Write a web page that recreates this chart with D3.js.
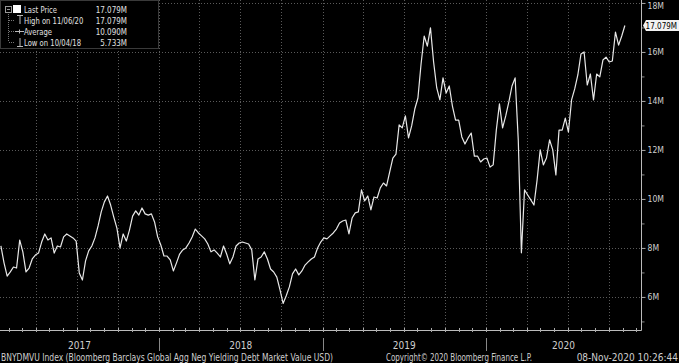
<!DOCTYPE html>
<html>
<head>
<meta charset="utf-8">
<script src="https://cdnjs.cloudflare.com/ajax/libs/d3/7.8.5/d3.min.js"></script>
<style>
  html, body { margin: 0; padding: 0; background: #000; }
  svg { display: block; }
  text { font-family: "Liberation Sans Narrow", "DejaVu Sans Condensed", "Arial Narrow", sans-serif; }
</style>
</head>
<body>
<svg id="main" width="679" height="363"></svg>
<script>
// weekly closes (Fridays) 2017-01-13 .. 2020-11-06, in millions USD
const firstWeek = new Date(2017, 0, 13);
const lastWeek = new Date(2020, 10, 6);
const values = [
  8.08, 7.39, 6.85, 7.02, 7.22, 7.18, 8.32, 7.84, 7.02, 7.18,
  7.55, 7.71, 7.79, 8.24, 8.57, 8.32, 8.41, 7.79, 8.08, 8.04,
  8.45, 8.57, 8.49, 8.41, 8.28, 6.98, 6.69, 7.47, 7.88, 8.08,
  8.41, 8.90, 9.47, 9.88, 10.12, 9.75, 9.26, 8.81, 8.00, 8.57,
  8.28, 8.73, 9.30, 9.51, 9.34, 9.63, 9.39, 9.34, 9.39, 9.06,
  8.45, 8.12, 7.67, 7.67, 7.51, 7.06, 7.39, 7.75, 7.92, 8.00,
  8.20, 8.45, 8.77, 8.61, 8.49, 8.37, 8.16, 7.84, 7.92, 7.79,
  7.63, 8.08, 7.75, 7.35, 7.63, 8.08, 8.20, 8.24, 8.20, 8.16,
  7.92, 6.69, 7.55, 7.63, 7.84, 7.55, 7.14, 7.02, 6.81, 6.30,
  5.733, 6.05, 6.41, 6.94, 7.14, 6.90, 7.06, 7.30, 7.43, 7.55,
  7.63, 8.00, 8.24, 8.41, 8.37, 8.49, 8.61, 8.77, 9.02, 9.10,
  9.14, 8.57, 9.22, 9.43, 9.47, 10.37, 9.92, 10.12, 9.55, 10.08,
  10.04, 10.45, 10.65, 10.53, 11.10, 11.67, 11.83, 13.02, 12.90, 13.39,
  12.49, 12.98, 13.67, 14.12, 15.51, 16.65, 16.24, 16.98, 15.59, 14.53,
  14.04, 14.94, 14.32, 14.61, 13.79, 13.22, 13.22, 12.53, 12.24, 12.49,
  12.69, 11.75, 11.75, 11.51, 11.63, 11.67, 11.30, 11.39, 12.81, 13.88,
  12.90, 13.39, 13.96, 14.61, 14.94, 12.41, 7.80, 10.37, 10.16, 9.96,
  9.75, 10.77, 12.00, 11.39, 11.67, 12.41, 12.00, 10.98, 12.81, 12.81,
  13.30, 12.73, 14.04, 14.49, 15.06, 15.92, 16.00, 14.65, 15.10, 14.04,
  15.10, 14.98, 15.67, 15.79, 15.59, 15.63, 16.81, 16.28, 16.65, 17.079
];
const yTicks = [6, 8, 10, 12, 14, 16, 18];
const yMinorTicks = [5, 7, 9, 11, 13, 15, 17];
const years = [2017, 2018, 2019, 2020];
const legendLabels = ["Last Price", "High on 11/06/20", "Average", "Low on 10/04/18"];
const legendValues = ["17.079M", "17.079M", "10.090M", "5.733M"];
const lastLabel = "17.079M";
const footLeft = "BNYDMVU Index (Bloomberg Barclays Global Agg Neg Yielding Debt Market Value USD)";
const footMid = "Copyright\u00A9 2020 Bloomberg Finance L.P.";
const footRight = "08-Nov-2020 10:26:44";

const dates = d3.timeFriday.range(firstWeek, d3.timeDay.offset(lastWeek, 1));
const data = dates.map((d, i) => ({ date: d, value: values[i] }));

const svg = d3.select('#main');
const plotW = 641, plotH = 330;

const x = d3.scaleTime()
  .domain([new Date(2017, 0, 11), new Date(2020, 11, 12)])
  .range([0, plotW]);
const y = d3.scaleLinear().domain([4.65, 18.12]).range([plotH, 0]);

// squeeze a text horizontally so it fits the narrow Bloomberg face
function narrow(sel, ratio) {
  sel.each(function() {
    const w = this.getComputedTextLength();
    d3.select(this).attr('textLength', w * ratio).attr('lengthAdjust', 'spacingAndGlyphs');
  });
}

svg.append('rect').attr('width', 679).attr('height', 363).attr('fill', '#000');

// grid
const grid = svg.append('g').attr('stroke', '#5a5a5a').attr('stroke-dasharray', '1,2').attr('stroke-width', 1);
grid.selectAll('line.h').data(yTicks).join('line').attr('class', 'h')
  .attr('x1', 0).attr('x2', plotW)
  .attr('y1', d => Math.round(y(d)) + 0.5).attr('y2', d => Math.round(y(d)) + 0.5);
grid.selectAll('line.v').data(d3.timeMonth.every(3).range(x.domain()[0], x.domain()[1])).join('line').attr('class', 'v')
  .attr('x1', d => Math.round(x(d)) + 0.5).attr('x2', d => Math.round(x(d)) + 0.5)
  .attr('y1', 0).attr('y2', plotH);

// price line
const line = d3.line().x(d => x(d.date)).y(d => y(d.value));
svg.append('path').datum(data)
  .attr('fill', 'none').attr('stroke', '#e8e8e8').attr('stroke-width', 1.2)
  .attr('stroke-linejoin', 'round')
  .attr('d', line);

// right axis
const yAxis = d3.axisRight(y).tickValues(yTicks).tickSize(4).tickPadding(2)
  .tickFormat(d => d + 'M');
const ya = svg.append('g').attr('transform', `translate(${plotW + 0.5},0)`).call(yAxis);
ya.select('.domain').remove();
ya.selectAll('line').attr('stroke', '#aaa');
ya.selectAll('text').attr('fill', '#cfcfcf').attr('font-size', 9.5)
  .attr('dy', d => d === 18 ? '0.55em' : '0.32em').call(narrow, 0.9);
svg.append('g').attr('transform', `translate(${plotW + 0.5},0)`)
  .call(d3.axisRight(y).tickValues(yMinorTicks).tickSize(3).tickFormat(''))
  .call(g => g.select('.domain').remove())
  .selectAll('line').attr('stroke', '#888');
svg.append('line').attr('x1', plotW + 0.5).attr('x2', plotW + 0.5).attr('y1', 0).attr('y2', plotH + 0.5)
  .attr('stroke', '#bbb');

// bottom axis with monthly ticks
svg.append('line').attr('x1', 0).attr('x2', plotW + 0.5).attr('y1', plotH + 0.5).attr('y2', plotH + 0.5)
  .attr('stroke', '#bbb');
svg.append('g').selectAll('line').data(d3.timeMonth.range(x.domain()[0], x.domain()[1])).join('line')
  .attr('x1', d => Math.round(x(d)) + 0.5).attr('x2', d => Math.round(x(d)) + 0.5)
  .attr('y1', plotH - 2).attr('y2', plotH + 2).attr('stroke', '#aaa');

// year bands
const yearStarts = years.slice(1).map(yr => new Date(yr, 0, 1));
svg.append('g').selectAll('line').data(yearStarts).join('line')
  .attr('x1', d => Math.round(x(d)) + 0.5).attr('x2', d => Math.round(x(d)) + 0.5)
  .attr('y1', 338).attr('y2', 351).attr('stroke', '#888');
svg.append('g').selectAll('text').data(years).join('text')
  .attr('x', yr => {
    const a = Math.max(x(new Date(yr, 0, 1)), 0);
    const b = Math.min(x(new Date(yr + 1, 0, 1)), plotW);
    return (a + b) / 2;
  })
  .attr('y', 349).attr('text-anchor', 'middle')
  .attr('fill', '#cfcfcf').attr('font-size', 10).text(d => d);

// footer
const foot = svg.append('g').attr('fill', '#cfcfcf').attr('font-size', 10);
foot.append('text').attr('x', 1).attr('y', 361).attr('textLength', 332).attr('lengthAdjust', 'spacingAndGlyphs').text(footLeft);
foot.append('text').attr('x', 386).attr('y', 361).attr('textLength', 146).attr('lengthAdjust', 'spacingAndGlyphs').text(footMid);
foot.append('text').attr('x', 678).attr('y', 361).attr('text-anchor', 'end').text(footRight);

// last price tag
const ly = y(values[values.length - 1]);
svg.append('path')
  .attr('d', `M${plotW + 2},${ly} L${plotW + 5},${ly - 5.5} L679,${ly - 5.5} L679,${ly + 5.5} L${plotW + 5},${ly + 5.5} Z`)
  .attr('fill', '#f2f2f2');
svg.append('text').attr('x', 677).attr('y', ly + 3).attr('text-anchor', 'end')
  .attr('font-size', 8).attr('fill', '#000')
  .text(lastLabel);

// legend
const lg = svg.append('g');
lg.append('rect').attr('x', 0.5).attr('y', 0.5).attr('width', 158).attr('height', 48)
  .attr('fill', '#000').attr('stroke', '#3a3a3a');
const rowY = [9, 20, 31, 42];
lg.append('line').attr('x1', 8.5).attr('x2', 8.5).attr('y1', 12).attr('y2', 42)
  .attr('stroke', '#777').attr('stroke-dasharray', '1,1');
lg.selectAll('line.br').data(rowY.slice(1)).join('line').attr('class', 'br')
  .attr('x1', 9).attr('x2', 15).attr('y1', d => d + 0.5).attr('y2', d => d + 0.5)
  .attr('stroke', '#777').attr('stroke-dasharray', '1,1');
lg.append('rect').attr('x', 5.5).attr('y', 6.5).attr('width', 6).attr('height', 6)
  .attr('fill', 'none').attr('stroke', '#999');
lg.append('line').attr('x1', 7).attr('x2', 10).attr('y1', 9.5).attr('y2', 9.5).attr('stroke', '#999');
lg.append('rect').attr('x', 13).attr('y', 5).attr('width', 8).attr('height', 8).attr('fill', '#fff');
// high / average / low markers
lg.append('path').attr('d', `M17,${rowY[1] - 4.5}H23M20,${rowY[1] - 4.5}V${rowY[1] + 4}`).attr('stroke', '#bbb').attr('fill', 'none');
lg.append('path').attr('d', `M15,${rowY[2] + 0.5}H24M19.5,${rowY[2] - 1.5}V${rowY[2] + 2.5}`).attr('stroke', '#bbb').attr('fill', 'none');
lg.append('path').attr('d', `M17,${rowY[3] + 4.5}H23M20,${rowY[3] - 4}V${rowY[3] + 4.5}`).attr('stroke', '#bbb').attr('fill', 'none');
lg.selectAll('text.lab').data(legendLabels).join('text').attr('class', 'lab')
  .attr('x', 24).attr('y', (d, i) => rowY[i] + 3.5)
  .attr('fill', '#e0e0e0').attr('font-size', 9.5).text(d => d)
  .call(narrow, 0.8);
lg.selectAll('text.val').data(legendValues).join('text').attr('class', 'val')
  .attr('x', 127).attr('y', (d, i) => rowY[i] + 3.5).attr('text-anchor', 'end')
  .attr('fill', '#e0e0e0').attr('font-size', 9.5).text(d => d)
  .call(narrow, 0.84);
</script>
</body>
</html>
